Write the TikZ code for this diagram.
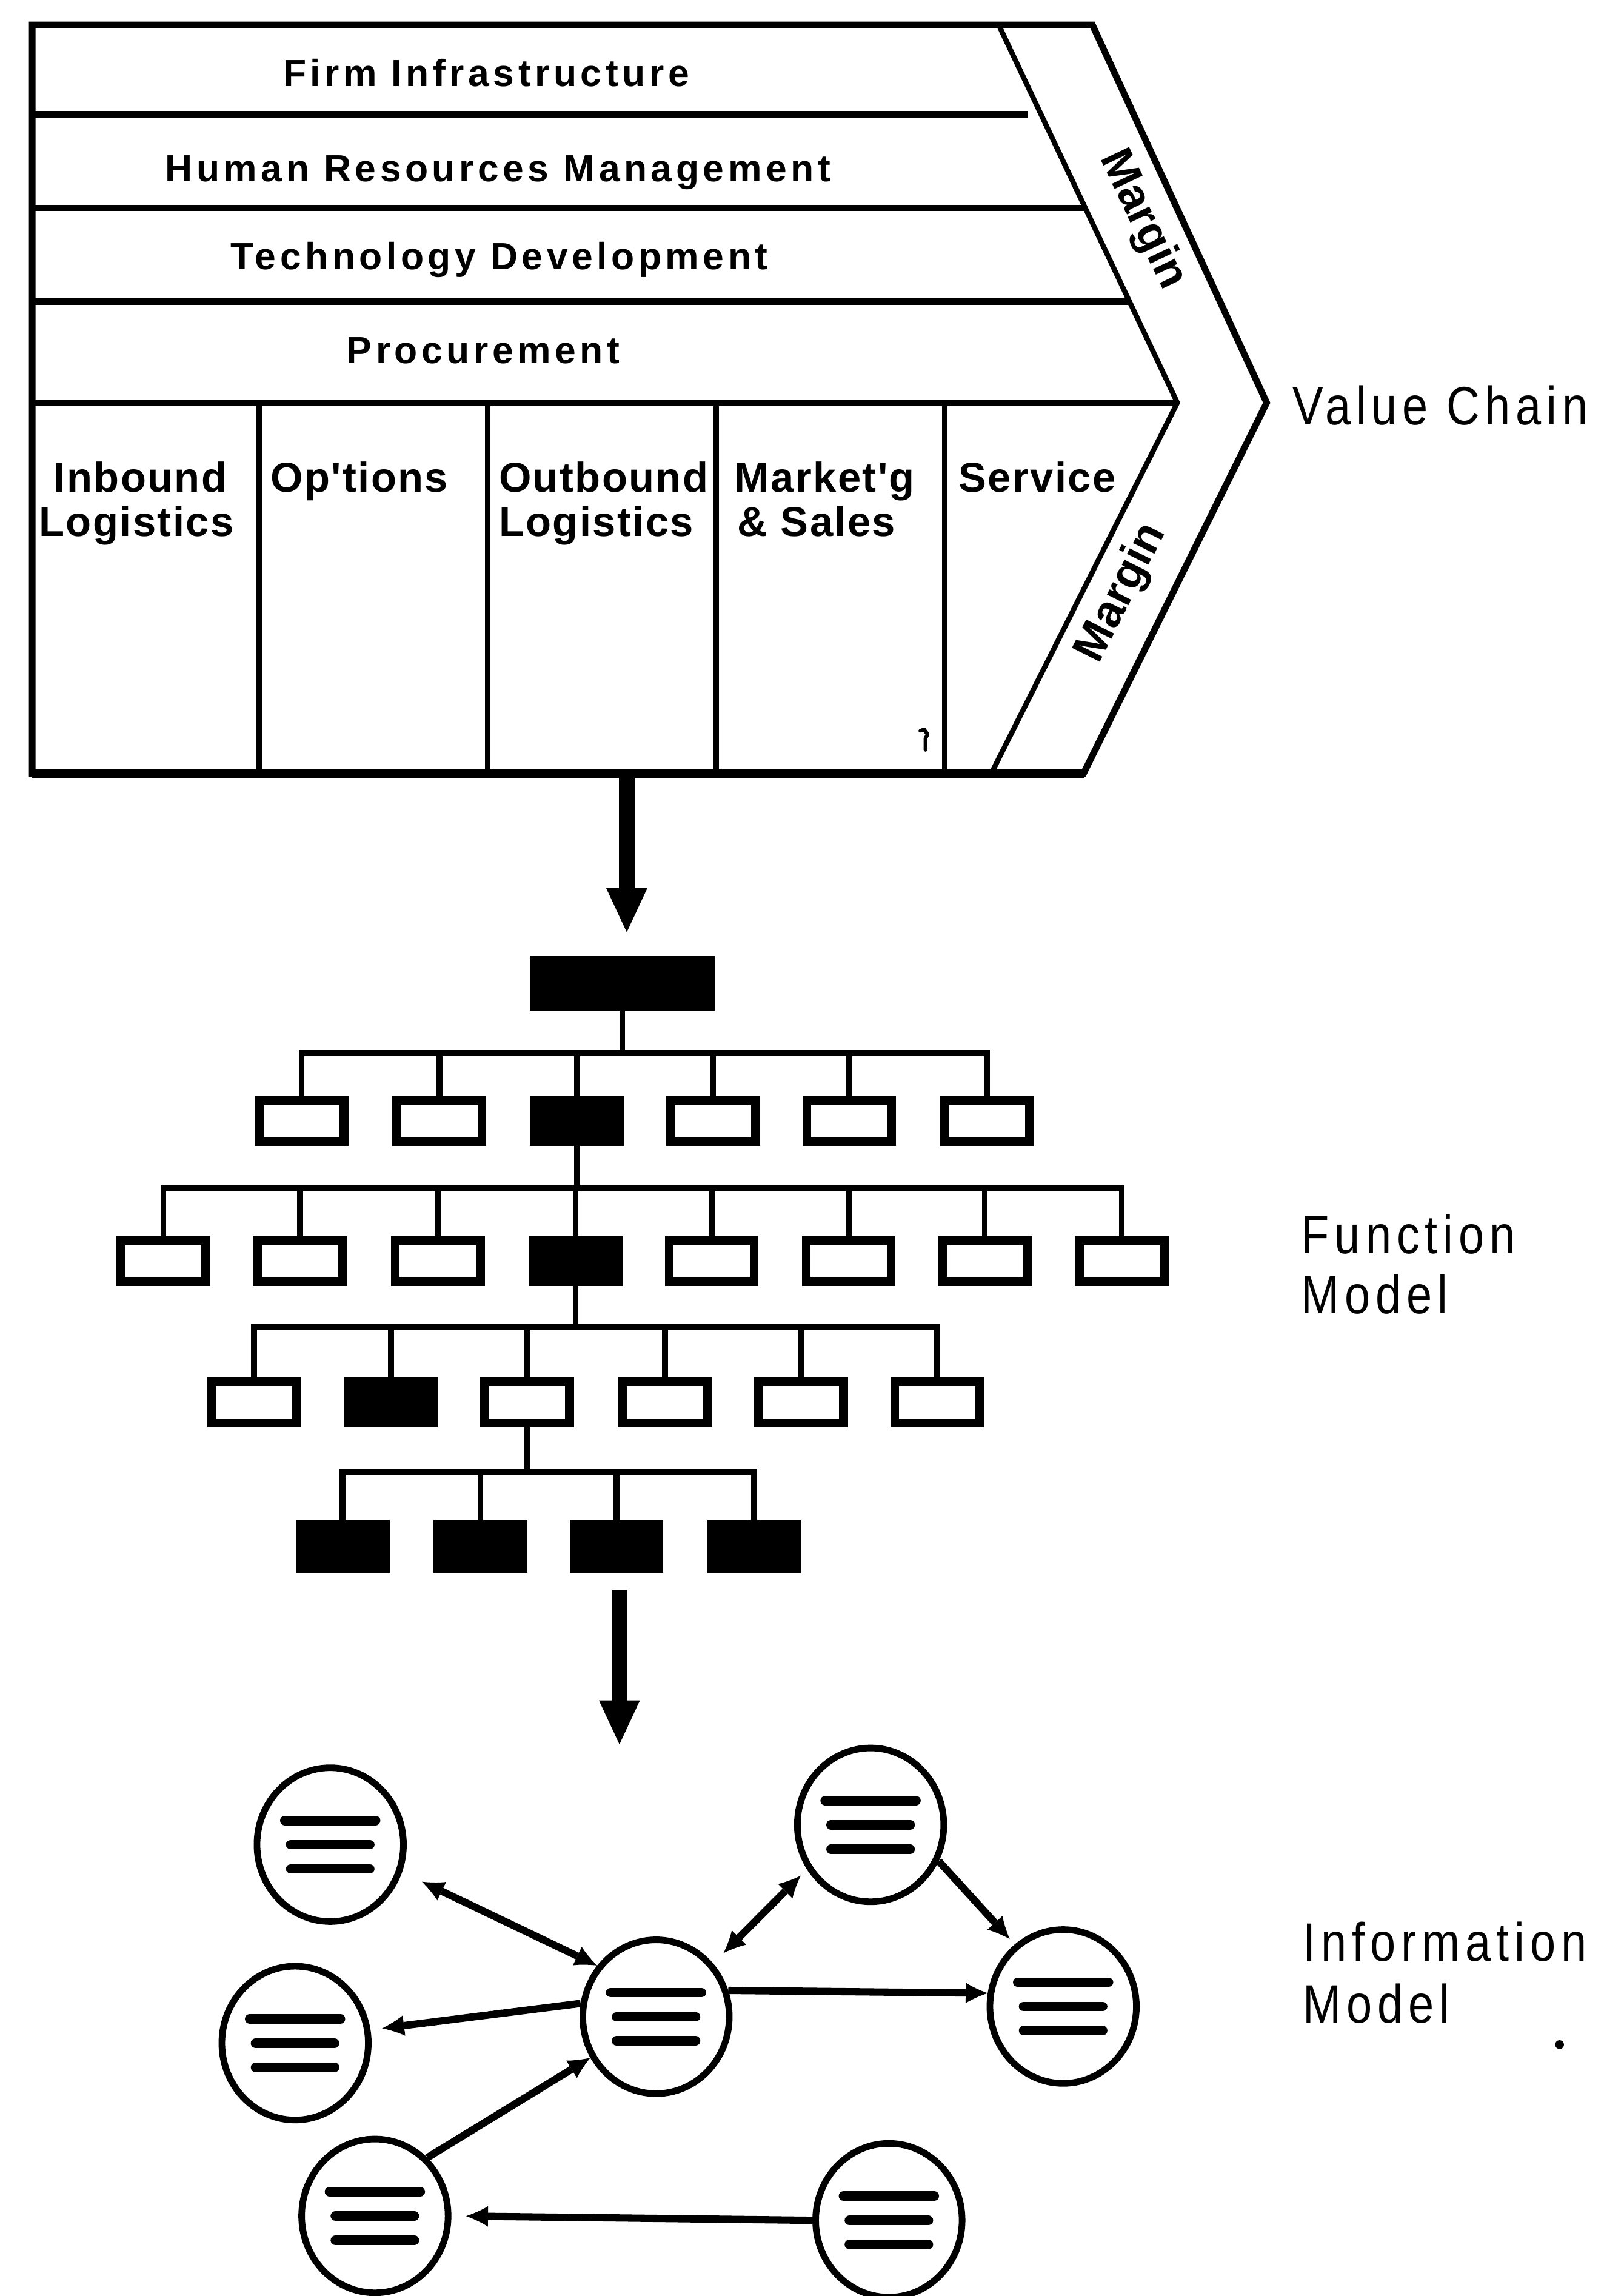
\documentclass[tikz,border=0pt]{standalone}
\usepackage{fontspec}
\setmainfont{Liberation Sans}
\newfontfamily\chartfont[LetterSpace=10.5]{Liberation Sans}
\newfontfamily\cellfont[LetterSpace=3.5]{Liberation Sans}
\newfontfamily\bandfont{Liberation Sans}
\newfontfamily\sidefont[LetterSpace=10,FakeStretch=0.85]{Liberation Sans}
\usetikzlibrary{arrows.meta,shapes.geometric}

\tikzset{
  outline/.style={line width=0.45mm, line join=miter},
  band/.style={line width=0.35mm, line join=miter},
  divider/.style={line width=0.38mm},
  suplabel/.style={inner sep=0pt, anchor=base, font=\chartfont\bfseries\fontsize{7.35pt}{8pt}\selectfont},
  celllabel/.style={inner sep=0pt, anchor=base west, font=\cellfont\bfseries\fontsize{8.1pt}{9pt}\selectfont},
  marginlabel/.style={inner sep=0pt, font=\bandfont\bfseries\fontsize{8.8pt}{9pt}\selectfont},
  sidelabel/.style={inner sep=0pt, anchor=base west, font=\sidefont\fontsize{10.5pt}{12pt}\selectfont},
  bigarrow/.style={line width=1.1mm, -{Triangle[length=3mm,width=2.8mm,line width=0pt]}},
  fbox/.style={draw, line width=0.6mm, inner sep=0pt, minimum width=5.8mm, minimum height=2.8mm},
  wbox/.style={fbox, fill=white},
  bbox/.style={fbox, fill=black},
  leafbox/.style={fbox, fill=black, minimum height=3.0mm},
  tline/.style={line width=0.4mm},
  entity/.style={draw, ellipse, line width=0.45mm, inner sep=0pt, minimum width=10.0mm, minimum height=10.5mm},
  bar/.style={line width=0.65mm, line cap=round},
  rel/.style={line width=0.5mm, -{Latex[length=1.5mm,width=1.4mm,line width=0pt]}},
  birel/.style={line width=0.5mm, {Latex[length=1.5mm,width=1.4mm,line width=0pt]}-{Latex[length=1.5mm,width=1.4mm,line width=0pt]}},
}

\begin{document}
\begin{tikzpicture}[x=0.1mm,y=-0.1mm]
\useasboundingbox (0,0) rectangle (1109,1567.7);

% ---------------- value chain ----------------
\draw[outline] (22,17) -- (746,17) -- (865,275) -- (740,528) -- (22,528) -- cycle;
\draw[line width=0.6mm] (22,528) -- (740,528);
\draw[band] (682,17) -- (804,275) -- (677,528);
\draw[outline] (22,78) -- (702,78);
\draw[outline] (22,142) -- (740,142);
\draw[outline] (22,206) -- (771,206);
\draw[outline] (22,275) -- (804,275);
\foreach \x in {177,333,489,645}
  \draw[divider] (\x,275) -- (\x,528);

\node[suplabel] (firm) at (332,59) {Firm Infrastructure};
\node[suplabel] (hrm)  at (340,124) {Human Resources Management};
\node[suplabel] (tech) at (341,184) {Technology Development};
\node[suplabel] (proc) at (330,248) {Procurement};

\node[celllabel] (ib1) at (36,336) {Inbound};
\node[celllabel] (ib2) at (26,366) {Logistics};
\node[celllabel] (ops) at (184,336) {Op'tions};
\node[celllabel] (ob1) at (340,336) {Outbound};
\node[celllabel] (ob2) at (340,366) {Logistics};
\node[celllabel] (mk1) at (501,336) {Market'g};
\node[celllabel] (mk2) at (503,366) {\& Sales};
\node[celllabel] (svc) at (654,336) {Service};

\node[marginlabel, rotate=-64.5] (mtop) at (780,150) {Margin};
\node[marginlabel, rotate=63.3] (mbot) at (766,405) {Margin};

% stray pen mark in the marketing cell
\draw[line width=0.25mm, line cap=round, line join=round]
  (628.5,499) -- (631,498) -- (633.5,501.5) -- (632,504) -- (632,512);

\node[sidelabel] (vc) at (882,290) {Value Chain};

% ---------------- function model ----------------
\coordinate (vcfoot) at (428,528);
\node[bbox, minimum width=12.0mm, minimum height=3.1mm] (root) at (425,671.5) {};
\draw[bigarrow, shorten >=1.65mm] (vcfoot) -- (vcfoot |- root.north);

\coordinate (bus1) at (0,719);
\coordinate (bus2) at (0,811);
\coordinate (bus3) at (0,906);
\coordinate (bus4) at (0,1005);

\foreach \i/\x/\s in {1/206/wbox,2/300/wbox,3/394/bbox,4/487/wbox,5/580/wbox,6/674/wbox}
  \node[\s] (a\i) at (\x,765.5) {};
\foreach \i in {1,...,6}
  \draw[tline] (root.south) -- (root.south |- bus1) -| (a\i.north);

\foreach \i/\x/\s in {1/111.5/wbox,2/205/wbox,3/299/wbox,4/393/bbox,5/486/wbox,6/579.5/wbox,7/672.5/wbox,8/766/wbox}
  \node[\s] (b\i) at (\x,861) {};
\foreach \i in {1,...,8}
  \draw[tline] (a3.south) -- (a3.south |- bus2) -| (b\i.north);

\foreach \i/\x/\s in {1/173.5/wbox,2/267/bbox,3/360/wbox,4/454/wbox,5/547/wbox,6/640/wbox}
  \node[\s] (c\i) at (\x,957.5) {};
\foreach \i in {1,...,6}
  \draw[tline] (b4.south) -- (b4.south |- bus3) -| (c\i.north);

\foreach \i/\x in {1/234,2/328,3/421,4/515}
  \node[leafbox] (d\i) at (\x,1056) {};
\foreach \i in {1,...,4}
  \draw[tline] (c3.south) -- (c3.south |- bus4) -| (d\i.north);

\node[sidelabel] (fm1) at (888,856) {Function};
\node[sidelabel] (fm2) at (888,897) {Model};

% ---------------- information model ----------------
\coordinate (a2top) at (423,1086);
\coordinate (a2tip) at (423,1191);
\draw[bigarrow] (a2top) -- (a2tip);

\node[entity] (E1)  at (225.5,1259.5) {};
\node[entity] (E2)  at (594.5,1246) {};
\node[entity] (Ec)  at (448,1377) {};
\node[entity] (E3)  at (201.5,1395) {};
\node[entity] (Er)  at (726,1370) {};
\node[entity] (Ebl) at (256,1513) {};
\node[entity] (Ebr) at (607,1516) {};

\foreach \n in {E1,E2,Ec,E3,Er,Ebl,Ebr} {
  \draw[bar] ([shift={(-31,-16.5)}]\n.center) -- ([shift={(31,-16.5)}]\n.center);
  \draw[bar] ([shift={(-27,0)}]\n.center) -- ([shift={(27,0)}]\n.center);
  \draw[bar] ([shift={(-27,16.5)}]\n.center) -- ([shift={(27,16.5)}]\n.center);
}

\draw[birel, shorten <=1.5mm] (E1.-21) -- (Ec.139);
\draw[birel, shorten <=1.0mm, shorten >=0.6mm] (Ec.43) -- (E2.215);
\draw[rel, shorten >=0.5mm] (E2.-28) -- (Er.128);
\draw[rel] (Ec.20) -- (Er.170);
\draw[rel, shorten >=0.8mm] (Ec.170) -- (E3.10);
\draw[rel] (Ebl.48) -- (Ec.212);
\draw[rel, shorten >=1mm] (Ebr.180) -- (Ebl.0);

\node[sidelabel] (im1) at (889,1339) {Information};
\node[sidelabel] (im2) at (889,1381) {Model};
\fill (1065,1396) circle (0.3mm);

\end{tikzpicture}
\end{document}
